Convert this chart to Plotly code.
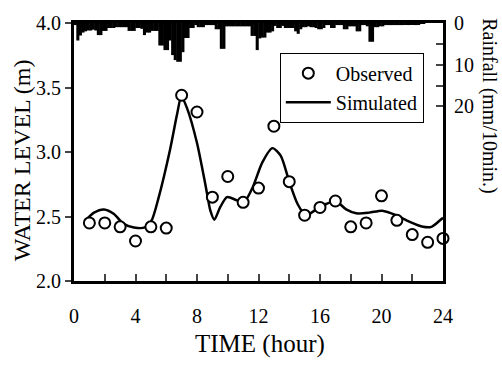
import plotly.graph_objects as go

# ---- data ----
obs_time = list(range(1, 25))
obs_level = [2.45, 2.45, 2.42, 2.31, 2.42, 2.41, 3.44, 3.31, 2.65, 2.81, 2.61, 2.72,
             3.20, 2.77, 2.51, 2.57, 2.62, 2.42, 2.45, 2.66, 2.47, 2.36, 2.30, 2.33]

sim_time = [0.75, 1.3, 1.95, 2.6, 3.2, 3.9, 4.6, 5.05, 5.5, 6.25, 6.7, 6.98, 7.35, 8.0,
            8.55, 8.87, 9.13, 9.5, 9.95, 10.6, 11.05, 11.6, 12.25, 12.9, 13.45, 14.0,
            14.55, 15.08, 15.95, 17.0, 17.7, 18.35, 19.2, 20.05, 20.95, 21.8, 22.7,
            23.25, 23.75, 24.0]
sim_level = [2.47, 2.53, 2.555, 2.52, 2.445, 2.415, 2.415, 2.47, 2.645, 3.02, 3.29, 3.43,
             3.34, 3.07, 2.745, 2.545, 2.475, 2.57, 2.65, 2.625, 2.61, 2.72, 2.92, 3.03,
             2.97, 2.77, 2.595, 2.51, 2.57, 2.62, 2.555, 2.525, 2.53, 2.545, 2.51, 2.46,
             2.42, 2.42, 2.465, 2.49]

# rainfall, mm per 10 min (6 values per hour)
rain_10min = [
    0.5, 4.2, 3.0, 2.3, 2.0, 1.8,   # 0 h
    1.8, 1.6, 1.8, 2.9, 2.9, 1.9,   # 1
    1.9, 1.2, 1.2, 1.2, 1.0, 1.0,   # 2
    1.0, 1.0, 1.0, 1.9, 1.9, 1.9,   # 3
    1.2, 1.2, 1.4, 2.9, 2.3, 2.3,   # 4
    1.9, 1.9, 1.9, 5.4, 5.4, 6.5,   # 5
    6.5, 4.2, 7.7, 8.9, 9.3, 9.3,   # 6
    7.0, 3.6, 3.6, 1.2, 1.2, 0.5,   # 7
    1.0, 1.0, 1.0, 0.5, 0.5, 0.5,   # 8
    0.5, 1.5, 1.5, 6.2, 6.2, 0.8,   # 9
    0.8, 0.8, 0.8, 0.8, 0.8, 0.8,   # 10
    0.8, 0.8, 0.8, 3.1, 3.1, 6.5,   # 11
    3.7, 3.5, 3.5, 2.3, 2.3, 2.0,   # 12
    0.7, 1.2, 1.2, 0.7, 1.2, 1.2,   # 13
    1.2, 1.2, 2.0, 2.6, 1.5, 1.0,   # 14
    1.0, 0.8, 1.0, 1.0, 1.2, 1.5,   # 15
    1.5, 1.2, 0.5, 0.5, 1.2, 1.2,   # 16
    0.5, 0.5, 0.5, 1.5, 1.5, 0.8,   # 17
    0.8, 0.8, 2.0, 2.0, 0.5, 0.5,   # 18
    0.8, 4.5, 4.5, 1.0, 1.0, 0.8,   # 19
    0.8, 0.5, 0.5, 0.5, 0.5, 0.5,   # 20
    0.5, 0.5, 0.5, 0.3, 0.5, 0.3,   # 21
    0.3, 0.5, 0.3, 0.2, 0.2, 0.0,   # 22
    0.0, 0.0, 0.0, 0.0, 0.0, 0.0,   # 23
]
rain_time = [(i + 0.5) / 6 for i in range(len(rain_10min))]

x_ticks = [0, 4, 8, 12, 16, 20, 24]
level_ticks = [2.0, 2.5, 3.0, 3.5, 4.0]
rain_ticks = [0, 10, 20]

FONT = "Liberation Serif"

fig = go.Figure()
fig.add_trace(go.Bar(x=rain_time, y=rain_10min, width=0.2, yaxis="y2",
                     marker=dict(color="black", line=dict(width=0)),
                     showlegend=False))
fig.add_trace(go.Scatter(x=sim_time, y=sim_level, mode="lines", name="Simulated",
                         line=dict(color="black", width=2.5, shape="spline", smoothing=0.7)))
fig.add_trace(go.Scatter(x=obs_time, y=obs_level, mode="markers", name="Observed",
                         marker=dict(symbol="circle", size=11, color="white",
                                     line=dict(color="black", width=2)),
                         cliponaxis=False))

fig.update_layout(
    width=502, height=368,
    margin=dict(l=74, r=59, t=14, b=87),
    paper_bgcolor="white", plot_bgcolor="white",
    font=dict(family=FONT, color="black", size=20),
    legend=dict(x=0.948, y=0.885, xanchor="right", yanchor="top",
                bordercolor="black", borderwidth=1, bgcolor="white",
                font=dict(size=20, family=FONT), traceorder="reversed",
                itemwidth=45, tracegroupgap=0),
    xaxis=dict(range=[0, 24], tickvals=x_ticks, ticks="inside", ticklen=7, tickwidth=2,
               minor=dict(dtick=2, ticks="inside", ticklen=7, tickwidth=2),
               showline=True, linewidth=3, linecolor="black", mirror=True,
               showgrid=False, zeroline=False, ticklabelstandoff=15,
               tickfont=dict(size=20)),
    yaxis=dict(range=[2, 4], tickvals=level_ticks, tickformat=".1f",
               ticks="outside", ticklen=6, tickwidth=2,
               showline=True, linewidth=3, linecolor="black",
               showgrid=False, zeroline=False, tickfont=dict(size=20)),
    yaxis3=dict(range=[2, 4], overlaying="y", side="left", tickvals=level_ticks,
                ticks="inside", ticklen=6, tickwidth=2, showticklabels=False,
                showline=False, showgrid=False, zeroline=False),
    yaxis2=dict(range=[61.9, 0], overlaying="y", side="right", tickvals=rain_ticks,
                ticks="inside", ticklen=7, tickwidth=2,
                minor=dict(tickvals=[5, 15], ticks="inside", ticklen=7, tickwidth=2),
                showline=True, linewidth=3, linecolor="black",
                showgrid=False, zeroline=False, ticklabelstandoff=4,
                tickfont=dict(size=20)),
    annotations=[
        dict(text="WATER LEVEL (m)", x=-0.141, y=0.468, xref="paper", yref="paper",
             textangle=-90, showarrow=False, font=dict(size=24, family=FONT),
             xanchor="center", yanchor="middle"),
        dict(text="TIME (hour)", x=0.504, y=-0.246, xref="paper", yref="paper",
             showarrow=False, font=dict(size=25, family=FONT),
             xanchor="center", yanchor="middle"),
        dict(text="Rainfall (mm/10min.)", x=1.127, y=0.678, xref="paper", yref="paper",
             textangle=90, showarrow=False, font=dict(size=20, family=FONT),
             xanchor="center", yanchor="middle"),
    ],
)

fig.write_html("out.html")
